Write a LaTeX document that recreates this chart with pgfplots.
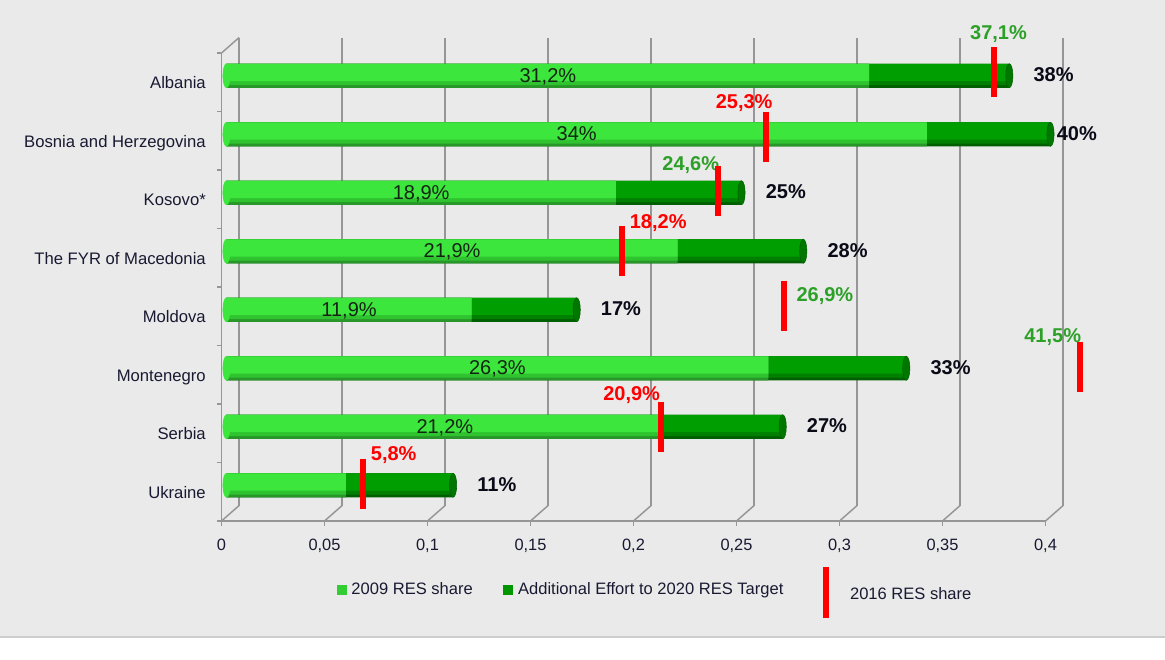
\documentclass[border=0pt]{standalone}
\usepackage{fontspec}
\setmainfont{Liberation Sans}
\usepackage{pgfplots}
\usepackage{pgfplotstable}
\pgfplotsset{compat=1.18}
\definecolor{bg}{RGB}{234,234,234}
\definecolor{sepgray}{RGB}{205,205,205}
\definecolor{axisgray}{RGB}{150,150,150}
\definecolor{labcol}{RGB}{25,25,50}
\definecolor{lgE}{RGB}{40,150,40}
\definecolor{lgB}{RGB}{48,195,48}
\definecolor{lgM}{RGB}{60,230,60}
\definecolor{dkE}{RGB}{0,95,0}
\definecolor{dkB}{RGB}{0,128,0}
\definecolor{dkM}{RGB}{0,158,0}
\definecolor{dkCap}{RGB}{0,120,0}
\definecolor{legl}{RGB}{50,205,50}
\definecolor{legd}{RGB}{0,150,0}
\definecolor{grlab}{RGB}{45,160,40}
\definecolor{inlabc}{RGB}{20,35,20}
\definecolor{endlabc}{RGB}{10,10,25}
\tikzset{
  inlab/.style={anchor=base, inner sep=0pt, xshift=3.75pt, font=\fontsize{15pt}{17pt}\selectfont, text=inlabc},
  endlab/.style={anchor=base west, inner sep=0pt, xshift=21.75pt, yshift=0.5pt, font=\fontsize{15pt}{17pt}\selectfont\bfseries, text=endlabc},
  mklab/.style={anchor=base, inner sep=0pt, font=\fontsize{15pt}{17pt}\selectfont\bfseries},
}
% cat: 0 Albania ... 7 Ukraine; s2009 = 2009 RES share; target = 2020 RES target
\pgfplotstableread{
cat s2009 target
0 0.312 0.38
1 0.34  0.40
2 0.189 0.25
3 0.219 0.28
4 0.119 0.17
5 0.263 0.33
6 0.212 0.27
7 0.058 0.11
}\bars
% 2016 RES share markers (position as drawn)
\pgfplotstableread{
x y
0.3726 -0.172
0.2619 0.944
0.2385 1.859
0.1918 2.876
0.2707 3.820
0.4145 4.868
0.2108 5.893
0.0665 6.859
}\marks
\begin{document}
\begin{tikzpicture}
\fill[bg] (-166.125pt,-87pt) rectangle (707.625pt,390.75pt);
\fill[white] (-166.125pt,-104.25pt) rectangle (707.625pt,-87pt);
\draw[sepgray, line width=1.2pt] (-166.125pt,-87pt) -- (707.625pt,-87pt);
\begin{axis}[
  at={(0pt,0pt)}, anchor=south west,
  scale only axis, width=618pt, height=351pt,
  xmin=0, xmax=0.4, ymin=-0.5, ymax=7.5, y dir=reverse,
  enlargelimits=false, clip=false,
  axis lines*=left,
  axis line style={axisgray, line width=1.1pt},
  major tick length=0pt, tick style={draw=none},
  xtick={0,0.05,0.1,0.15,0.2,0.25,0.3,0.35,0.4},
  xticklabels={0,{0,05},{0,1},{0,15},{0,2},{0,25},{0,3},{0,35},{0,4}},
  ytick={0,1,2,3,4,5,6,7},
  yticklabels={Albania,Bosnia and Herzegovina,Kosovo*,The FYR of Macedonia,Moldova,Montenegro,Serbia,Ukraine},
  xticklabel style={anchor=base, inner sep=0pt, yshift=-22.3pt, font=\fontsize{12.3pt}{14pt}\selectfont, text=labcol},
  yticklabel style={anchor=base east, inner sep=0pt, xshift=-11.6pt, yshift=-4.9pt, font=\fontsize{12.5pt}{14pt}\selectfont, text=labcol},
  legend columns=3,
  legend cell align=left,
  legend style={at={(0.1396,-0.1528)}, anchor=west, draw=none, fill=none, inner sep=0pt,
    font=\fontsize{12.4pt}{14pt}\selectfont, text=labcol,
    /tikz/every even column/.append style={column sep=21pt}},
  bar/.style={xbar, bar shift=0pt, draw=none, xshift=3.75pt, forget plot},
  cap/.style={only marks, mark=*, mark size=9pt, xshift=3.75pt, yshift=4.875pt, forget plot},
]
% legend
\addlegendimage{legend image code/.code={\fill[legl, draw=none] (0pt,-3.75pt) rectangle (7.5pt,3.75pt); \path[draw=none, fill=none] (0pt,0pt) -- (9pt,0pt);}}
\addlegendentry{2009 RES share}
\addlegendimage{legend image code/.code={\fill[legd, draw=none] (0pt,-3.75pt) rectangle (7.5pt,3.75pt); \path[draw=none, fill=none] (0pt,0pt) -- (9pt,0pt);}}
\addlegendentry{Additional Effort to 2020 RES Target}
\addlegendimage{legend image code/.code={\fill[red, draw=none] (7pt,-20.9pt) rectangle (11.5pt,17.1pt); \path[draw=none, fill=none] (0pt,0pt) -- (25pt,0pt);}}
\addlegendentry[yshift=-3.75pt]{2016 RES share}
% 3D frame: back grid lines, floor diagonals, front ticks
\pgfplotsinvokeforeach{0,0.05,0.1,0.15,0.2,0.25,0.3,0.35,0.4}{
  \draw[axisgray, line width=1.2pt] ([xshift=13.2pt,yshift=11.6pt]axis cs:#1,7.5) -- ([xshift=13.2pt,yshift=11.6pt]axis cs:#1,-0.5);
  \draw[axisgray, line width=1.1pt] (axis cs:#1,7.5) -- ([xshift=13.2pt,yshift=11.6pt]axis cs:#1,7.5);
  \draw[axisgray, line width=1.1pt] (axis cs:#1,7.5) -- ++(0pt,-3.75pt);
}
\draw[axisgray, line width=1.1pt] (axis cs:0,-0.5) -- ([xshift=13.2pt,yshift=11.6pt]axis cs:0,-0.5);
\pgfplotsinvokeforeach{-0.5,0.5,1.5,2.5,3.5,4.5,5.5,6.5,7.5}{
  \draw[axisgray, line width=1.1pt] (axis cs:0,#1) -- ++(-3pt,0pt);
}
% 2020 target (total) bars, cylinder-like bands
\addplot[bar, bar width=18pt, yshift=4.875pt, fill=dkE] table[x=target, y=cat] {\bars};
\addplot[bar, bar width=16pt, yshift=5.875pt, fill=dkB] table[x=target, y=cat] {\bars};
\addplot[bar, bar width=13pt, yshift=7.375pt, fill=dkM] table[x=target, y=cat] {\bars};
% 2009 share bars
\addplot[bar, bar width=18pt, yshift=4.875pt, fill=lgE] table[x=s2009, y=cat] {\bars};
\addplot[bar, bar width=16pt, yshift=5.875pt, fill=lgB] table[x=s2009, y=cat] {\bars};
\addplot[bar, bar width=13pt, yshift=7.375pt, fill=lgM] table[x=s2009, y=cat] {\bars};
% rounded left end of the cylinders
\addplot[cap, color=lgM, mark options={xscale=0.3, fill=lgM, draw=lgM}] table[x expr=0, y=cat] {\bars};
% end face of the cylinders
\addplot[cap, color=dkE, mark options={xscale=0.3, fill=dkCap, draw=dkE, line width=0.4pt}] table[x=target, y=cat] {\bars};
% 2016 markers
\addplot[only marks, mark=|, mark size=18.75pt, draw=red, mark options={line width=4.5pt, draw=red}, xshift=3.75pt, forget plot]
  table[x=x, y=y] {\marks};
% inside labels
\node[inlab] at (axis cs:0.156,0) {31,2\%};
\node[inlab] at (axis cs:0.17,1) {34\%};
\node[inlab] at (axis cs:0.0945,2) {18,9\%};
\node[inlab] at (axis cs:0.1095,3) {21,9\%};
\node[inlab] at (axis cs:0.0595,4) {11,9\%};
\node[inlab] at (axis cs:0.1315,5) {26,3\%};
\node[inlab] at (axis cs:0.106,6) {21,2\%};
% end labels
\node[endlab] at (axis cs:0.38,0) {38\%};
\node[endlab, xshift=-13.5pt] at (axis cs:0.40,1) {40\%};
\node[endlab] at (axis cs:0.25,2) {25\%};
\node[endlab] at (axis cs:0.28,3) {28\%};
\node[endlab] at (axis cs:0.17,4) {17\%};
\node[endlab] at (axis cs:0.33,5) {33\%};
\node[endlab] at (axis cs:0.27,6) {27\%};
\node[endlab] at (axis cs:0.11,7) {11\%};
% 2016 labels
\node[mklab, text=grlab] at (axis cs:0.3772,-0.739) {37,1\%};
\node[mklab, text=red] at (axis cs:0.2537,0.440) {25,3\%};
\node[mklab, text=grlab] at (axis cs:0.2278,1.509) {24,6\%};
\node[mklab, text=red] at (axis cs:0.2120,2.5) {18,2\%};
\node[mklab, text=grlab] at (axis cs:0.2929,3.756) {26,9\%};
\node[mklab, text=grlab] at (axis cs:0.4035,4.457) {41,5\%};
\node[mklab, text=red] at (axis cs:0.1991,5.440) {20,9\%};
\node[mklab, text=red] at (axis cs:0.0836,6.466) {5,8\%};
\end{axis}
\pgfresetboundingbox
\path[use as bounding box] (-166.125pt,-104.25pt) rectangle (707.625pt,390.75pt);
\end{tikzpicture}
\end{document}
